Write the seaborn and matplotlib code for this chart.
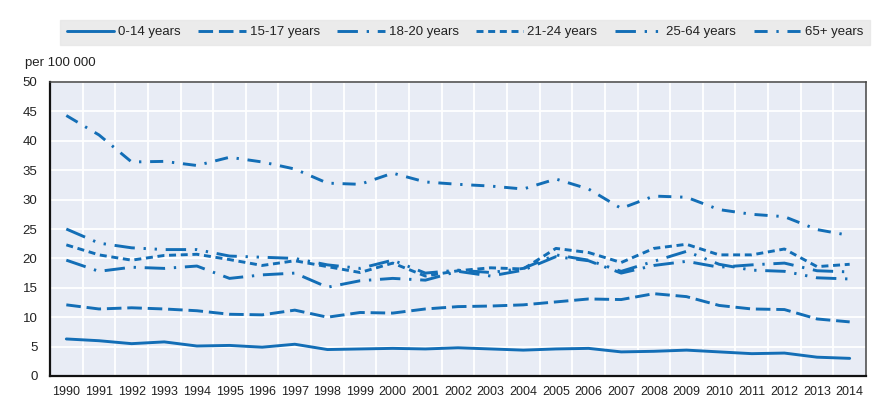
import matplotlib
matplotlib.use("Agg")
import matplotlib.pyplot as plt
import seaborn as sns
import numpy as np
import pandas as pd

# values, per 100 000
years = list(range(1990, 2015))
groups = ["0-14 years", "15-17 years", "18-20 years", "21-24 years", "25-64 years", "65+ years"]

r0_14 = [6.3, 6.0, 5.5, 5.8, 5.1, 5.2, 4.9, 5.4, 4.5, 4.6, 4.7, 4.6, 4.8,
         4.6, 4.4, 4.6, 4.7, 4.1, 4.2, 4.4, 4.1, 3.8, 3.9, 3.2, 3.0]
r15_17 = [12.1, 11.4, 11.6, 11.4, 11.1, 10.5, 10.4, 11.2, 10.0, 10.8, 10.7, 11.4, 11.8,
          11.9, 12.1, 12.6, 13.1, 13.0, 14.0, 13.5, 12.0, 11.4, 11.3, 9.7, 9.2]
r18_20 = [19.7, 17.8, 18.5, 18.3, 18.7, 16.6, 17.2, 17.5, 15.1, 16.2, 16.6, 16.3, 17.8,
          17.0, 18.0, 20.3, 19.6, 17.5, 18.8, 19.5, 18.5, 18.9, 19.2, 17.9, 17.7]
r21_24 = [22.3, 20.6, 19.7, 20.5, 20.7, 19.8, 18.8, 19.6, 18.6, 17.6, 19.2, 17.0, 17.9,
          18.4, 18.2, 21.7, 21.0, 19.3, 21.7, 22.4, 20.6, 20.6, 21.6, 18.6, 19.0]
r25_64 = [25.0, 22.6, 21.8, 21.5, 21.5, 20.4, 20.2, 20.0, 18.9, 18.3, 19.7, 17.5, 18.0,
          17.6, 18.3, 20.6, 19.7, 17.8, 19.5, 21.2, 19.0, 18.0, 17.8, 16.7, 16.5]
r65 = [44.3, 41.0, 36.4, 36.5, 35.8, 37.2, 36.4, 35.2, 32.8, 32.6, 34.5, 33.0, 32.6,
       32.3, 31.8, 33.5, 31.8, 28.5, 30.6, 30.4, 28.3, 27.5, 27.1, 24.9, 23.9]

series = [r0_14, r15_17, r18_20, r21_24, r25_64, r65]

df = pd.concat([pd.DataFrame({"year": years, "rate": s, "group": g})
                for g, s in zip(groups, series)], ignore_index=True)

blue = "#136eb6"
dash_styles = ["", (5, 2), (7, 3, 0.8, 3), (2.4, 1.6), (7, 3, 0.8, 3, 0.8, 3), (4.5, 3, 0.8, 3)]

sns.set_style("white")
plt.rcParams["font.family"] = ["Liberation Sans Narrow", "Liberation Sans", "DejaVu Sans"]

fig = plt.figure(figsize=(8.86, 4.07), dpi=100)
ax = fig.add_axes([50/886, 1-376/407, 816/886, 294/407])
ax.set_facecolor("#e8ecf5")

sns.lineplot(data=df, x="year", y="rate", hue="group", style="group",
             palette=[blue]*6, dashes=dash_styles, linewidth=2.1, ax=ax)

handles, labels = ax.get_legend_handles_labels()
ax.get_legend().remove()

ax.set_xlim(years[0] - 0.5, years[-1] + 0.5)
ax.set_ylim(0, 50)
ax.set_yticks(np.arange(0, 51, 5))
ax.set_xticks(years)
ax.set_xticklabels([str(y) for y in years])
ax.set_xticks(np.array(years[:-1]) + 0.5, minor=True)
ax.tick_params(axis="x", which="major", length=0, pad=7, labelsize=9, colors="#222222")
ax.tick_params(axis="x", which="minor", length=4, width=1, color="#222222", direction="out")
ax.tick_params(axis="y", which="major", length=3, width=1, pad=6, labelsize=9.5, colors="#222222")
ax.grid(False)
ax.grid(True, axis="y", which="major", color="white", linewidth=1.3)
ax.grid(True, axis="x", which="minor", color="white", linewidth=1.3)
ax.set_axisbelow(True)
ax.set_xlabel("")
ax.set_ylabel("")

for side in ["left", "bottom"]:
    ax.spines[side].set_color("#111111")
    ax.spines[side].set_linewidth(1.6)
for side in ["top", "right"]:
    ax.spines[side].set_color("#444444")
    ax.spines[side].set_linewidth(1.1)

fig.text(25/886, 1-63/407, "per 100 000", fontsize=9.5, ha="left", va="center", color="#222222")

leg = fig.legend(handles, labels, loc="lower left", ncol=6, mode="expand",
                 bbox_to_anchor=(60/886, 1-45/407, 810/886, 28/407),
                 frameon=True, fancybox=False, handlelength=3.6, handletextpad=0.3,
                 borderaxespad=0, fontsize=9.5, borderpad=0.5)
leg.get_frame().set_facecolor("#e7e7e7")
leg.get_frame().set_edgecolor("#e7e7e7")
for t in leg.get_texts():
    t.set_color("#222222")

fig.savefig("out.png", dpi=100)
